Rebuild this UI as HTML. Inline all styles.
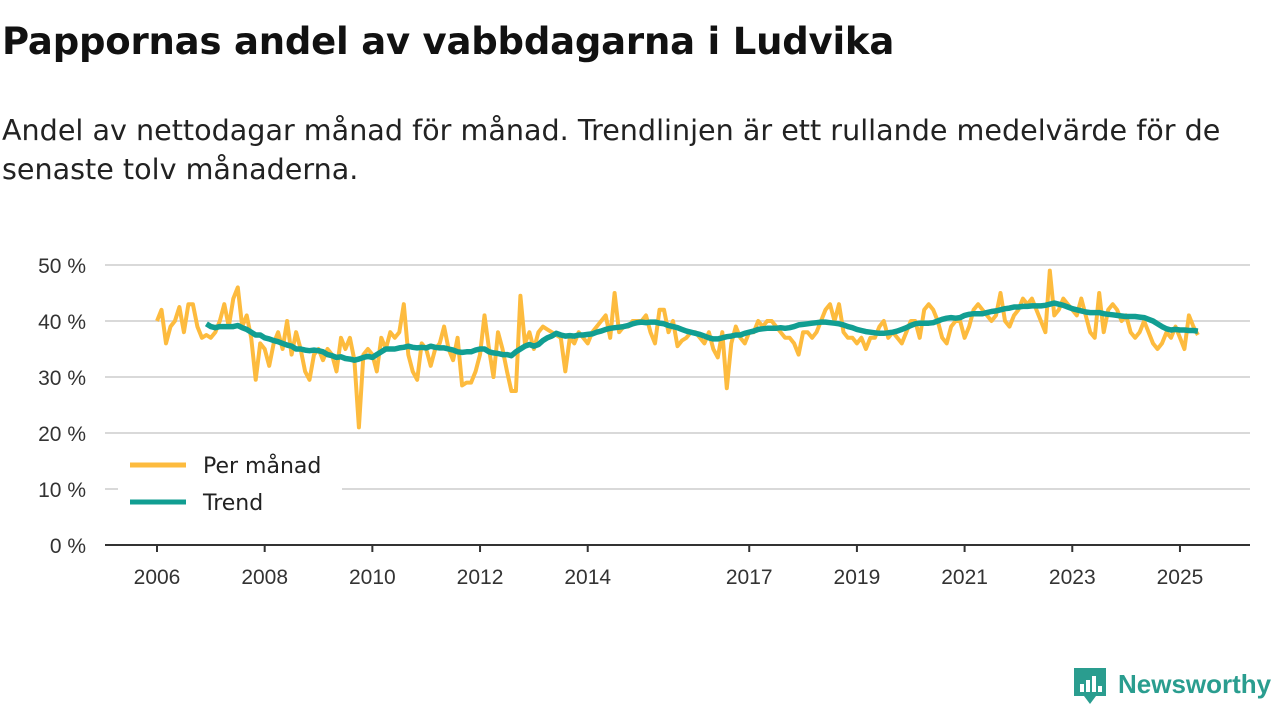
<!DOCTYPE html>
<html><head><meta charset="utf-8"><style>
body{margin:0;width:1280px;height:720px;background:#fff;font-family:"DejaVu Sans","Liberation Sans",sans-serif;overflow:hidden;position:relative}
#title{position:absolute;left:2px;top:20px;font-size:37px;font-weight:bold;color:#111;margin:0;white-space:nowrap;letter-spacing:-0.2px}
#sub{position:absolute;left:2px;top:111px;font-size:28.6px;line-height:39px;color:#222;width:1270px;letter-spacing:0px;white-space:nowrap}
svg{position:absolute;left:0;top:0}
</style></head><body>
<h1 id="title">Pappornas andel av vabbdagarna i Ludvika</h1>
<div id="sub">Andel av nettodagar månad för månad. Trendlinjen är ett rullande medelvärde för de<br>senaste tolv månaderna.</div>
<svg id="chart" width="1280" height="720"></svg>
<script>
const yTicks=[0,10,20,30,40,50];
const xTickYears=[2006,2008,2010,2012,2014,2017,2019,2021,2023,2025];
const monthlyStart=2006;
const monthly=[
40,42,36,39,40,42.5,38,43,43,39,37,37.5,
37,38,40,43,39,44,46,39,41,37,29.5,36,
35,32,36,38,35,40,34,38,35,31,29.5,34,
35,33,35,34,31,37,35,37,33,21,34,35,
34,31,37,35,38,37,38,43,34,31,29.5,36,
35,32,35,36,39,35,33,37,28.5,29,29,31,
34,41,35,30,38,35,31,27.5,27.5,44.5,36,38,
35,38,39,38.5,38,37.5,37,31,37,36,38,37,
36,38,39,40,41,37,45,38,39,39,40,40,
40,41,38,36,42,42,38,40,35.5,36.5,37,38,
38,37,36,38,35,33.5,38,28,36,39,37,36,
38,38,40,39,40,40,39,38,37,37,36,34,
38,38,37,38,40,42,43,40,43,38,37,37,
36,37,35,37,37,39,40,37,38,37,36,38,
40,40,37,42,43,42,40,37,36,39,40,40,
37,39,42,43,42,41,40,41,45,40,39,41,
42,44,43,44,42,40,38,49,41,42,44,43,
42,41,44,41,38,37,45,38,42,43,42,40,
41,38,37,38,40,38,36,35,36,38,37,39,
37,35,41,39,37.5];
const trendStartIndex=11;
const trend=[39.5,
39,38.8,39,39,39,39,39.2,38.8,38.5,38,37.5,37.5,
37,36.8,36.5,36.3,36,35.7,35.5,35,35,34.8,34.7,34.8,
34.7,34.5,34,33.8,33.5,33.6,33.3,33.2,33,33.2,33.5,33.7,
33.5,34,34.5,35,35,35,35.2,35.3,35.5,35.3,35.2,35.3,
35.2,35.5,35.3,35.2,35.2,35,34.8,34.5,34.4,34.5,34.5,34.8,
35,35,34.5,34.3,34.2,34,34,33.8,34.5,35,35.5,35.8,
35.5,35.8,36.5,37,37.3,37.8,37.5,37.3,37.4,37.3,37.5,37.5,
37.6,37.7,38,38.2,38.5,38.7,38.8,38.9,39,39.2,39.5,39.7,
39.8,39.7,39.8,39.8,39.6,39.5,39.2,39,38.8,38.5,38.2,38,
37.8,37.6,37.3,37,36.8,36.8,37,37.2,37.3,37.5,37.5,37.8,
38,38.2,38.5,38.6,38.7,38.7,38.7,38.8,38.7,38.8,39,39.3,
39.4,39.5,39.6,39.7,39.8,39.8,39.7,39.6,39.5,39.3,39,38.8,
38.5,38.3,38.1,38,37.9,37.8,37.8,37.9,38,38.2,38.5,38.8,
39.2,39.5,39.6,39.6,39.6,39.7,40,40.3,40.5,40.6,40.5,40.6,
41,41.2,41.3,41.3,41.3,41.5,41.7,41.8,42,42.2,42.3,42.5,
42.5,42.6,42.6,42.7,42.7,42.7,42.8,43,43.2,43,42.8,42.5,
42.2,42,41.8,41.6,41.5,41.5,41.5,41.3,41.2,41.1,41,40.9,
40.8,40.8,40.8,40.7,40.6,40.3,40,39.5,39,38.6,38.4,38.5,
38.4,38.4,38.3,38.3,38.2];
const legendLabels=["Per månad","Trend"];

const NS='http://www.w3.org/2000/svg';
const svg=document.getElementById('chart');
const X=t=>157+(t-2006)*53.84;
const Y=v=>545-v*5.6;
function mk(tag,attrs,parent){const e=document.createElementNS(NS,tag);for(const k in attrs)e.setAttribute(k,attrs[k]);(parent||svg).appendChild(e);return e;}
yTicks.forEach(v=>{
  if(v>0){const g=mk('line',{x1:105,x2:1250,y1:Y(v),y2:Y(v),stroke:'#d9d9d9','stroke-width':2});
  
  }
  const t=mk('text',{x:86,y:Y(v)+8,'text-anchor':'end','font-size':21,fill:'#333','font-family':'Liberation Sans, sans-serif'});
  t.textContent=v+' %';
  
  
});
const ax=mk('line',{x1:105,x2:1250,y1:545,y2:545,stroke:'#333','stroke-width':2});


xTickYears.forEach(yr=>{
  const tk=mk('line',{x1:X(yr),x2:X(yr),y1:545,y2:552,stroke:'#333','stroke-width':2});
  
  
  const t=mk('text',{x:X(yr),y:584,'text-anchor':'middle','font-size':21,fill:'#333','font-family':'Liberation Sans, sans-serif'});
  t.textContent=yr;
  
  
});
const mPts=monthly.map((v,i)=>X(monthlyStart+i/12).toFixed(1)+','+Y(v).toFixed(1)).join(' ');
const ml=mk('polyline',{points:mPts,fill:'none',stroke:'#fdbb3e','stroke-width':4,'stroke-linejoin':'round'});


const tPts=trend.map((v,i)=>X(monthlyStart+(i+trendStartIndex)/12).toFixed(1)+','+Y(v).toFixed(1)).join(' ');
const tl=mk('polyline',{points:tPts,fill:'none',stroke:'#119e92','stroke-width':5.5,'stroke-linejoin':'round'});


const lg=mk('rect',{x:118,y:446,width:224,height:76,fill:'#fff'});


const cols=['#fdbb3e','#119e92'];
legendLabels.forEach((l,i)=>{
  const y=465+i*37;
  const s=mk('line',{x1:130,x2:186,y1:y,y2:y,stroke:cols[i],'stroke-width':5});
  
  
  const t=mk('text',{x:203,y:y+8,'font-size':22,fill:'#222'});
  t.textContent=l;
  
  
});
const logo=mk('g',{});


mk('path',{d:'M1074 668h32v28h-10l-6 8-6-8h-10z',fill:'#2a9d8f'},logo);
[[1080,684,4,8],[1086,680,4,12],[1092,676,4,16],[1098,686,4,6]].forEach(r=>mk('rect',{x:r[0],y:r[1],width:r[2],height:r[3],fill:'#fff'},logo));
const lt=mk('text',{x:1118,y:693,'font-size':26,'font-weight':'bold',fill:'#2a9d8f','font-family':'Liberation Sans, sans-serif'},logo);
lt.textContent='Newsworthy';
</script>
</body></html>
